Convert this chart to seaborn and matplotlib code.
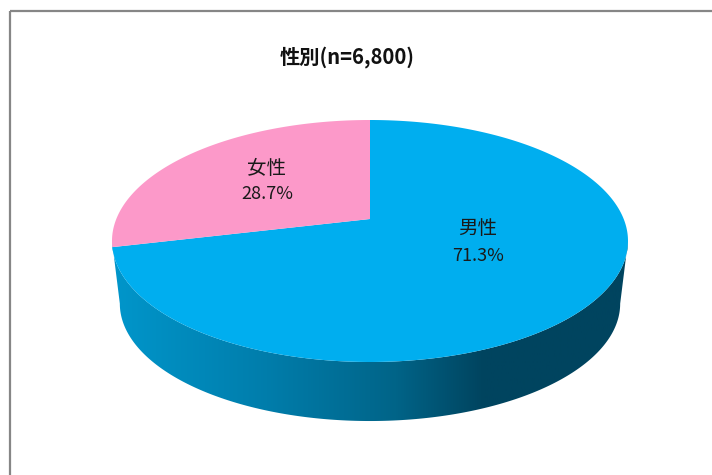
import numpy as np
import matplotlib
matplotlib.use('Agg')
import matplotlib.pyplot as plt
import seaborn as sns
from matplotlib.colors import LinearSegmentedColormap
from matplotlib.patches import Polygon, Rectangle
from matplotlib.transforms import Transform

genders = ['男性', '女性']
shares = [71.3, 28.7]
title = '性別(n=6,800)'

sns.set_theme(style='white')
plt.rcParams['font.family'] = ['Noto Sans CJK JP', 'DejaVu Sans']


# Excel style 3D pie: unit circle seen in perspective, result in pixels
class Tilted(Transform):
    input_dims = 2
    output_dims = 2

    def __init__(self, cx, cy, a, b, k):
        super().__init__()
        self.cx, self.cy, self.a, self.b, self.k = cx, cy, a, b, k

    def transform_non_affine(self, values):
        values = np.asarray(values, dtype=float)
        w = 1 + self.k * values[:, 1]
        return np.column_stack([self.cx + self.b * values[:, 0] / w,
                                self.cy - self.a * values[:, 1] / w])


def unit_arc(theta1, theta2, n=300):
    t = np.radians(np.linspace(theta1, theta2, n))
    return np.column_stack([np.cos(t), np.sin(t)])


k = 0.1818
top_face = Tilted(370, 219, 117, 253.7, k)
bottom_face = Tilted(370, 282.3, 113.5, 246, k)

fig = plt.figure(figsize=(7.12, 4.75), dpi=100, facecolor='white')
ax = fig.add_axes([0, 0, 1, 1])

wedges, _ = ax.pie(shares, colors=['#00AEEF', '#FC99C9'], startangle=90,
                   counterclock=False, wedgeprops={'linewidth': 0})
ax.set_aspect('auto')
ax.axis('off')

# redraw each wedge's angles as a fine polygon, bezier arcs go lumpy under perspective
for w in wedges:
    outline = np.vstack([[[0, 0]], unit_arc(w.theta1, w.theta2)])
    ax.add_patch(Polygon(outline, closed=True, facecolor=w.get_facecolor(), edgecolor='none',
                         transform=top_face + ax.transData, zorder=3))
    w.remove()

# side wall, between the two silhouette points of each ellipse
tilt = np.degrees(np.arcsin(k))
circle = unit_arc(180 + tilt, 360 - tilt)
wall = np.vstack([top_face.transform(circle), bottom_face.transform(circle)[::-1]])
wall_patch = Polygon(wall, closed=True, facecolor='none', edgecolor='none', transform=ax.transData)
ax.add_patch(wall_patch)
side_cmap = LinearSegmentedColormap.from_list(
    'side', [(0, '#0096CB'), (0.3, '#007DAB'), (0.55, '#006488'), (0.72, '#00445F'), (1, '#00445F')])
grad = ax.imshow(np.linspace(0, 1, 256)[None, :], cmap=side_cmap, aspect='auto',
                 extent=[112, 628, 475, 0], zorder=2)
grad.set_clip_path(wall_patch)
ax.set_xlim(0, 712)
ax.set_ylim(475, 0)

ax.add_patch(Rectangle((9.5, 10.5), 900, 700, facecolor='none', edgecolor='#868686', linewidth=1.6, zorder=1))

ax.text(347, 57, title, ha='center', va='center', fontsize=14.6, fontweight='bold', color='#111111', zorder=5)
for name, share, x, y1, y2 in zip(genders, shares, [478, 267], [228, 168], [256, 194]):
    ax.text(x, y1, name, ha='center', va='center', fontsize=14, color='#1a1a1a', zorder=5)
    ax.text(x, y2, f'{share}%', ha='center', va='center', fontsize=13, color='#1a1a1a', zorder=5)

fig.savefig('out.png', dpi=100)
